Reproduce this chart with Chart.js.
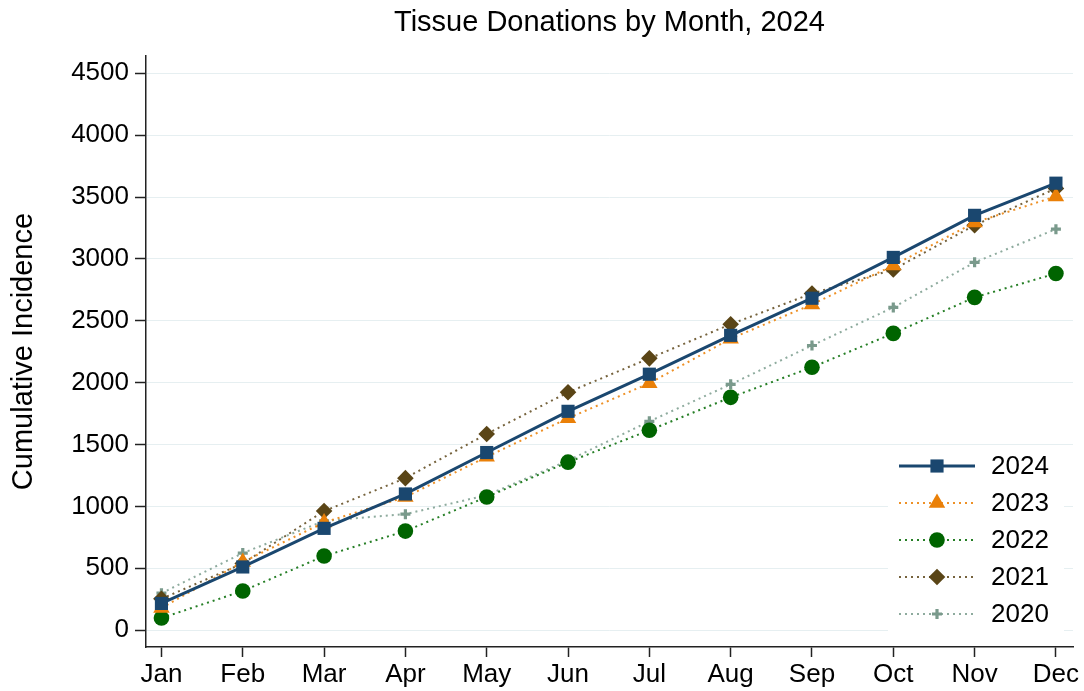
<!DOCTYPE html>
<html><head><meta charset="utf-8">
<script src="https://cdn.jsdelivr.net/npm/chart.js@4/dist/chart.umd.min.js"></script>
<style>html,body{margin:0;padding:0;background:#fff;overflow:hidden}</style>
</head><body>
<canvas id="c" width="1084" height="691"></canvas>
<script>
const chartTitle = 'Tissue Donations by Month, 2024';
const yAxisTitle = 'Cumulative Incidence';
const months = ['Jan','Feb','Mar','Apr','May','Jun','Jul','Aug','Sep','Oct','Nov','Dec'];
const yTicks = [0,500,1000,1500,2000,2500,3000,3500,4000,4500];
const seriesNames = ['2024','2023','2022','2021','2020'];
const v2024 = [215, 510, 822, 1100, 1435, 1768, 2068, 2382, 2682, 3012, 3352, 3612];
const v2023 = [178, 550, 870, 1075, 1400, 1712, 1995, 2355, 2632, 2947, 3294, 3505];
const v2022 = [97, 316, 598, 800, 1076, 1357, 1615, 1881, 2124, 2398, 2689, 2882];
const v2021 = [252, 538, 962, 1228, 1585, 1922, 2196, 2472, 2720, 2914, 3272, 3570];
const v2020 = [298, 622, 882, 937, 1090, 1370, 1687, 1986, 2300, 2608, 2972, 3240];

const FONT = '"Liberation Sans", Arial, Helvetica, sans-serif';
const styles = [
  {color:'#1a476f', lineColor:'#1a476f', dash:[], width:3, point:'rect', radius:9.3, pbw:0},
  {color:'#ea8008', lineColor:'#ee9127', dash:[2,4], width:2, point:'triangle', radius:9.5, pbw:0},
  {color:'#006400', lineColor:'#267f26', dash:[2,4], width:2, point:'circle', radius:7.8, pbw:0},
  {color:'#5a4516', lineColor:'#76633d', dash:[2,4], width:2, point:'rectRot', radius:8.3, pbw:0},
  {color:'#7a9a8c', lineColor:'#8eab9e', dash:[2,4], width:2, point:'cross', radius:5, pbw:3.2}
];
const seriesValues = [v2024, v2023, v2022, v2021, v2020];

const datasets = seriesNames.map((name, k) => ({
  label: name,
  data: seriesValues[k].map((v, i) => ({x: i, y: v})),
  borderColor: styles[k].lineColor,
  backgroundColor: styles[k].color,
  borderWidth: styles[k].width,
  borderDash: styles[k].dash,
  pointStyle: styles[k].point,
  pointRadius: styles[k].radius,
  pointBackgroundColor: styles[k].color,
  pointBorderColor: styles[k].color,
  pointBorderWidth: styles[k].pbw,
  tension: 0,
  fill: false
}));

const titlePlugin = {
  id: 'ownTitle',
  afterDraw(chart) {
    const ctx = chart.ctx, a = chart.chartArea;
    ctx.save();
    ctx.font = '29px ' + FONT;
    ctx.fillStyle = '#000';
    ctx.textAlign = 'center';
    ctx.textBaseline = 'middle';
    ctx.fillText(chartTitle, (a.left + a.right) / 2, 23);
    ctx.restore();
  }
};

const legendPlugin = {
  id: 'ownLegend',
  afterDraw(chart) {
    const ctx = chart.ctx;
    const bx = 888, by = 447, bw = 176, bh = 185;
    ctx.save();
    ctx.fillStyle = '#fff';
    ctx.fillRect(bx, by, bw, bh);
    seriesNames.forEach((name, k) => {
      const s = styles[k];
      const y = 466 + k * 37;
      ctx.save();
      ctx.strokeStyle = s.lineColor;
      ctx.lineWidth = s.width;
      ctx.setLineDash(s.dash);
      ctx.beginPath();
      ctx.moveTo(899, y);
      ctx.lineTo(975, y);
      ctx.stroke();
      ctx.restore();
      ctx.save();
      ctx.fillStyle = s.color;
      ctx.strokeStyle = s.color;
      ctx.lineWidth = s.pbw;
      Chart.helpers.drawPoint(ctx, {pointStyle: s.point, radius: s.radius, rotation: 0, borderWidth: s.pbw}, 937, y);
      ctx.restore();
      ctx.fillStyle = '#000';
      ctx.font = '26px ' + FONT;
      ctx.textAlign = 'left';
      ctx.textBaseline = 'middle';
      ctx.fillText(name, 991, y + 1);
    });
    ctx.restore();
  }
};

new Chart(document.getElementById('c'), {
  type: 'line',
  data: { datasets },
  plugins: [titlePlugin, legendPlugin],
  options: {
    responsive: false,
    animation: false,
    devicePixelRatio: 1,
    layout: { padding: { top: 56, right: 11, left: 0, bottom: 0 } },
    plugins: { legend: { display: false }, title: { display: false }, tooltip: { enabled: false } },
    scales: {
      x: {
        type: 'linear', min: -0.19, max: 11.21,
        afterBuildTicks: s => { s.ticks = months.map((m, i) => ({ value: i })); },
        afterFit: s => { s.height = 44; },
        ticks: { callback: v => months[v], font: { size: 26, family: FONT }, color: '#000', padding: 2, maxRotation: 0, autoSkip: false },
        grid: { drawOnChartArea: false, drawTicks: true, tickLength: 10, tickColor: '#222', tickWidth: 1.5 },
        border: { color: '#222', width: 1.5 }
      },
      y: {
        type: 'linear', min: -137, max: 4640,
        afterBuildTicks: s => { s.ticks = yTicks.map(v => ({ value: v })); },
        afterFit: s => { s.width = 146; },
        ticks: { callback: v => String(v), font: { size: 26, family: FONT }, color: '#000', padding: 6 },
        grid: { color: '#e6eff1', lineWidth: 1, tickColor: '#222', tickLength: 11, tickWidth: 1.5 },
        border: { color: '#222', width: 1.5 },
        title: { display: true, text: yAxisTitle, font: { size: 29, family: FONT }, color: '#000', padding: { top: 7, bottom: 0 } }
      }
    }
  }
});
</script>
</body></html>
